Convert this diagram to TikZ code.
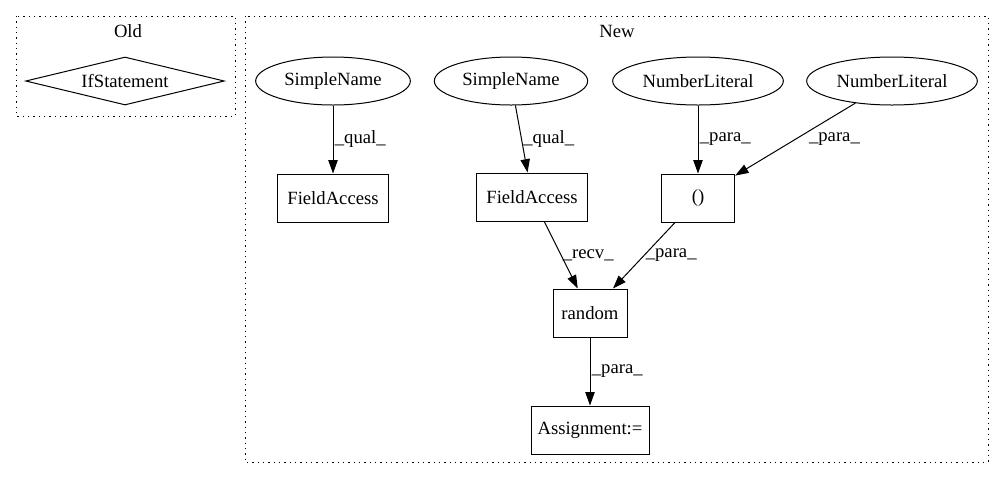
\documentclass[tikz,border=0pt]{standalone}
\usepackage{fontspec}
\setmainfont{Liberation Serif}
\usetikzlibrary{shapes.geometric,arrows.meta,positioning}

\begin{document}
\begin{tikzpicture}[x=0.75pt,y=-0.75pt,->,>={Triangle[length=10pt,width=7pt]},line width=0.75pt,font=\fontsize{14}{16.8}\selectfont,
	ovalnode/.style={shape=ellipse,draw=black,minimum height=36pt,inner sep=0pt},
	boxnode/.style={shape=rectangle,draw=black,minimum height=36pt,inner sep=0pt},
	cluster/.style={-,draw=black,dash pattern=on 1pt off 3pt},
	lbl/.style={midway,right,inner sep=1pt}]
	\useasboundingbox (0,0) rectangle (1004,480);
	%% Clusters
	\draw[cluster] (16,16) rectangle (235,116);
	\node (OldTitle) at (128,31) {Old};
	\draw[cluster] (245,16) rectangle (988,462);
	\node (NewTitle) at (617,31) {New};
	
	%% Old
	\node (IfStmt) [shape=diamond,draw=black,aspect=4.1,inner sep=0pt,minimum width=149pt,minimum height=36pt] at (125,81)
	{IfStatement};
	
	%% New: top row
	\node (Name1) [ovalnode,minimum width=116pt] at (333,81) {SimpleName};
	\node (Name2) [ovalnode,minimum width=115pt] at (511,81) {SimpleName};
	\node (Num1) [ovalnode,minimum width=128pt] at (698,81) {NumberLiteral};
	\node (Num2) [ovalnode,minimum width=128pt] at (892,81) {NumberLiteral};
	
	%% New: second row
	\node (Field1) [boxnode,minimum width=83pt,below=51pt of Name1] {FieldAccess};
	\node (Field2) [boxnode,minimum width=83pt] at (532,197) {FieldAccess};
	\node (Paren) [boxnode,minimum width=55pt,below=51pt of Num1] {()};
	
	%% call and assignment
	\node (Random) [boxnode,minimum width=55.5pt] at (590,313) {random};
	\node (Assign) [boxnode,minimum width=88.5pt,below=51pt of Random] {Assignment:=};
	
	\draw (Name1) -- (Field1) node[lbl] {\_qual\_};
	\draw (Name2) -- (Field2) node[lbl] {\_qual\_};
	\draw (Num1) -- (Paren) node[lbl] {\_para\_};
	\draw (Num2) -- (Paren) node[lbl,xshift=9pt] {\_para\_};
	\draw (Field2) -- (Random) node[lbl] {\_recv\_};
	\draw (Paren) -- (Random) node[lbl] {\_para\_};
	\draw (Random) -- (Assign) node[lbl] {\_para\_};
\end{tikzpicture}
\end{document}
